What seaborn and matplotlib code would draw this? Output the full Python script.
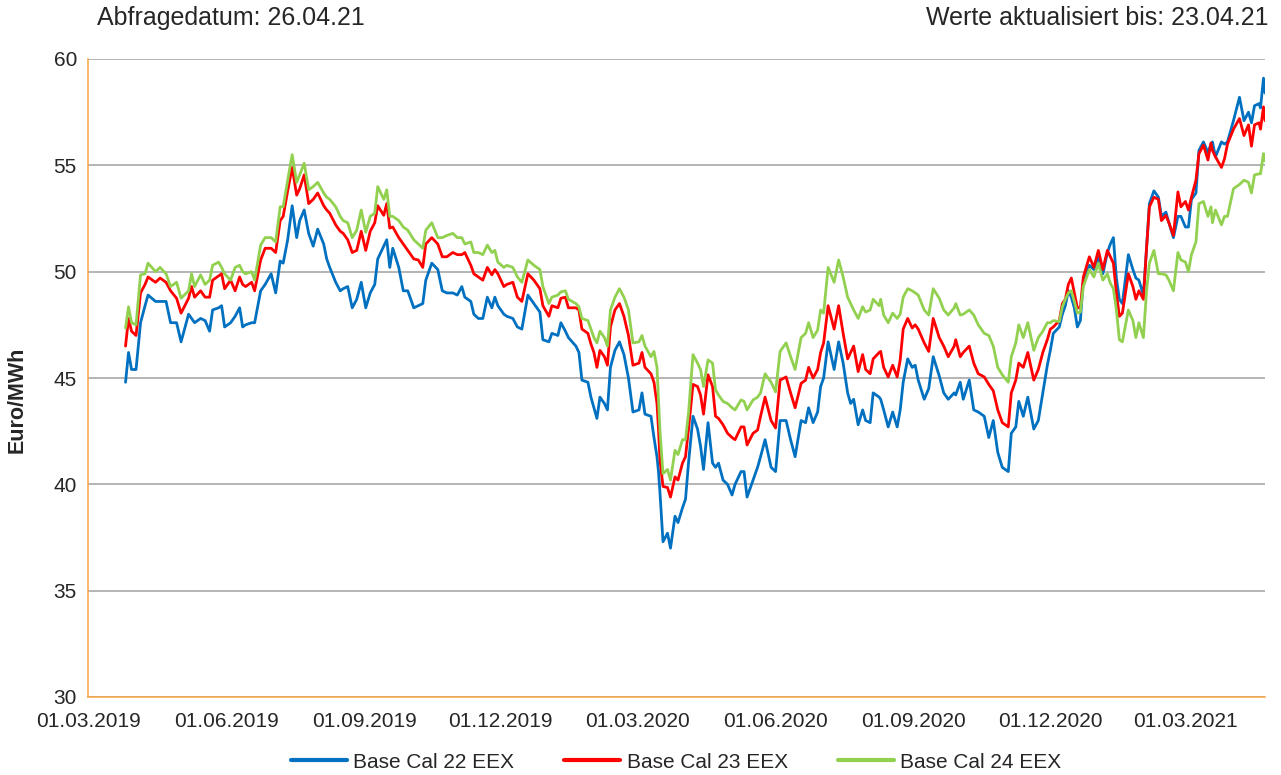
import pandas as pd
import seaborn as sns
import matplotlib.pyplot as plt
import matplotlib.dates as mdates

# ============================================================================
# DATA - days counted from 01.03.2019
# ============================================================================
start_date = "2019-03-01"

days = [
    25, 27, 29, 32, 35, 38, 40, 45, 48, 52,
    55, 59, 62, 67, 69, 71, 75, 78, 81, 83,
    87, 89, 91, 95, 98, 101, 103, 105, 109, 111,
    115, 118, 122, 125, 128, 130, 133, 136, 139, 141,
    144, 147, 150, 153, 157, 159, 161, 165, 168, 170,
    173, 176, 179, 182, 185, 188, 191, 193, 197, 199,
    201, 203, 207, 210, 213, 217, 220, 223, 225, 229,
    233, 236, 239, 243, 246, 249, 251, 255, 257, 260,
    263, 266, 269, 271, 273, 277, 279, 283, 286, 289,
    293, 297, 301, 303, 307, 309, 313, 315, 318, 320,
    325, 327, 329, 333, 335, 337, 339, 341, 344, 346,
    348, 351, 354, 357, 360, 363, 367, 369, 371, 375,
    377, 379, 380, 381, 383, 386, 388, 391, 393, 396,
    398, 400, 403, 406, 408, 410, 413, 416, 418, 420,
    423, 426, 429, 431, 435, 437, 439, 443, 446, 448,
    451, 455, 458, 461, 465, 468, 471, 475, 478, 480,
    483, 486, 488, 490, 493, 497, 500, 503, 506, 508,
    510, 513, 516, 518, 521, 523, 527, 528, 530, 533,
    536, 539, 541, 543, 546, 549, 551, 553, 557, 560,
    563, 567, 570, 573, 577, 578, 581, 583, 587, 590,
    593, 597, 600, 603, 606, 609, 613, 615, 618, 620,
    623, 626, 630, 633, 636, 639, 641, 643, 647, 649,
    651, 653, 655, 657, 659, 661, 663, 667, 670, 673,
    676, 679, 681, 683, 685, 687, 689, 693, 696, 698,
    700, 703, 705, 707, 710, 713, 715, 718, 720, 723,
    726, 728, 731, 733, 735, 738, 740, 743, 746, 748,
    749, 751, 755, 757, 759, 763, 767, 770, 773, 775,
    777, 780, 781, 783, 784,
]

cal22 = [
    44.8, 46.2, 45.4, 45.4, 47.6, 48.4, 48.9, 48.6, 48.6, 48.6,
    47.6, 47.6, 46.7, 48.0, 47.8, 47.6, 47.8, 47.7, 47.2, 48.2,
    48.3, 48.4, 47.4, 47.6, 47.9, 48.3, 47.4, 47.5, 47.6, 47.6,
    49.1, 49.4, 49.9, 49.0, 50.5, 50.4, 51.5, 53.1, 51.6, 52.4,
    52.9, 51.8, 51.2, 52.0, 51.3, 50.6, 50.2, 49.5, 49.1, 49.2,
    49.3, 48.3, 48.7, 49.5, 48.3, 49.0, 49.4, 50.6, 51.2, 51.5,
    50.2, 51.1, 50.2, 49.1, 49.1, 48.3, 48.4, 48.5, 49.6, 50.4,
    50.1, 49.1, 49.0, 49.0, 48.9, 49.3, 48.8, 48.6, 48.0, 47.8,
    47.8, 48.8, 48.3, 48.8, 48.4, 48.0, 47.9, 47.8, 47.4, 47.3,
    48.9, 48.5, 48.1, 46.8, 46.7, 47.1, 47.0, 47.6, 47.2, 46.9,
    46.5, 46.2, 44.9, 44.8, 44.1, 43.6, 43.1, 44.1, 43.8, 43.5,
    45.5, 46.3, 46.7, 46.1, 45.0, 43.4, 43.5, 44.3, 43.3, 43.2,
    42.2, 41.3, 40.6, 39.6, 37.3, 37.7, 37.0, 38.5, 38.2, 38.9,
    39.3, 41.0, 43.2, 42.6, 41.8, 40.7, 42.9, 41.0, 40.8, 41.0,
    40.2, 40.0, 39.5, 40.0, 40.6, 40.6, 39.4, 40.2, 40.8, 41.3,
    42.1, 40.8, 40.6, 43.0, 43.0, 42.1, 41.3, 43.0, 42.9, 43.6,
    42.9, 43.4, 44.6, 45.0, 46.7, 45.4, 46.7, 45.7, 44.3, 43.8,
    44.0, 42.8, 43.5, 43.0, 42.9, 44.3, 44.1, 44.0, 43.5, 42.7,
    43.4, 42.7, 43.5, 44.8, 45.9, 45.5, 45.6, 44.9, 44.0, 44.5,
    46.0, 45.1, 44.3, 44.0, 44.3, 44.2, 44.8, 44.0, 44.9, 43.5,
    43.4, 43.2, 42.2, 43.0, 41.5, 40.8, 40.6, 42.4, 42.7, 43.9,
    43.2, 44.1, 42.6, 43.0, 44.3, 45.6, 46.3, 47.1, 47.4, 48.0,
    48.4, 49.1, 48.8, 48.3, 47.4, 47.7, 49.6, 50.3, 50.1, 50.7,
    49.9, 50.9, 51.3, 51.6, 49.7, 48.7, 48.5, 50.8, 50.1, 49.7,
    49.6, 48.9, 51.0, 53.2, 53.8, 53.5, 52.6, 52.8, 52.3, 51.6,
    52.6, 52.6, 52.1, 52.1, 53.4, 53.7, 55.7, 56.1, 55.6, 56.0,
    56.1, 55.4, 56.1, 56.0, 56.1, 57.1, 58.2, 57.1, 57.5, 57.0,
    57.8, 57.9, 57.7, 59.1, 58.4,
]

cal23 = [
    46.5, 47.8, 47.2, 47.0, 49.0, 49.4, 49.75, 49.5, 49.7, 49.5,
    49.1, 48.75, 48.05, 48.75, 49.3, 48.8, 49.1, 48.8, 48.8, 49.6,
    49.8, 49.9, 49.2, 49.6, 49.1, 49.75, 49.4, 49.3, 49.5, 49.1,
    50.55, 51.1, 51.1, 50.9, 52.4, 52.6, 53.8, 54.9, 53.6, 53.9,
    54.55, 53.2, 53.4, 53.7, 53.1, 52.9, 52.75, 52.2, 51.9, 51.8,
    51.5, 50.9, 51.0, 51.9, 51.0, 51.9, 52.3, 53.1, 52.65, 53.2,
    52.05, 52.1, 51.6, 51.3, 51.0, 50.6, 50.55, 50.2, 51.3, 51.6,
    51.3, 50.7, 50.7, 50.9, 50.8, 50.8, 50.9, 50.3, 49.9, 49.75,
    49.6, 50.2, 49.85, 50.1, 49.9, 49.3, 49.4, 49.5, 48.8, 48.6,
    49.9, 49.6, 49.2, 48.4, 47.9, 48.4, 48.3, 48.75, 48.8, 48.3,
    48.3, 48.2, 47.3, 47.1, 46.6, 46.2, 45.5, 46.3, 46.0, 45.6,
    47.4, 48.2, 48.5, 47.9, 47.0, 45.6, 45.7, 46.2, 45.5, 45.2,
    44.8, 43.8, 42.6, 41.15, 39.9, 39.85, 39.4, 40.35, 40.2, 41.0,
    41.3, 42.6, 44.7, 44.6, 44.2, 43.3, 45.15, 44.6, 43.2, 43.1,
    42.8, 42.4, 42.2, 42.1, 42.7, 42.7, 41.85, 42.4, 42.55, 43.2,
    44.1, 43.0, 42.65, 44.9, 45.05, 44.3, 43.6, 44.75, 44.9, 45.5,
    45.0, 45.4, 46.2, 46.65, 48.4, 47.3, 48.4, 47.1, 45.9, 46.2,
    46.5, 45.3, 46.1, 45.4, 45.2, 45.9, 46.2, 46.25, 45.5, 45.05,
    45.6, 45.05, 45.85, 47.3, 47.8, 47.35, 47.5, 47.3, 46.65, 46.25,
    47.8, 46.9, 46.5, 46.0, 46.5, 46.8, 46.0, 46.2, 46.5, 45.7,
    45.2, 45.05, 44.7, 44.4, 43.5, 42.9, 42.7, 44.3, 44.9, 45.7,
    45.5, 46.2, 44.9, 45.4, 46.2, 46.8, 47.3, 47.4, 47.7, 48.5,
    48.7, 49.4, 49.7, 49.0, 48.3, 48.3, 49.75, 50.7, 50.2, 51.0,
    50.1, 51.0, 50.7, 50.4, 49.0, 47.9, 48.05, 49.9, 49.3, 48.7,
    49.1, 48.7, 51.0, 53.05, 53.5, 53.4, 52.4, 52.65, 52.3, 51.7,
    53.75, 53.05, 53.3, 52.9, 53.5, 54.3, 55.55, 55.95, 55.25, 56.05,
    55.7, 55.4, 54.9, 55.3, 56.0, 56.7, 57.2, 56.4, 56.9, 55.9,
    56.9, 57.0, 56.7, 57.75, 57.1,
]

cal24 = [
    47.35, 48.35, 47.6, 47.5, 49.85, 49.9, 50.4, 50.0, 50.2, 49.9,
    49.3, 49.5, 48.75, 49.1, 49.9, 49.3, 49.85, 49.4, 49.6, 50.3,
    50.45, 50.2, 49.9, 49.6, 50.2, 50.3, 50.0, 49.9, 50.0, 49.6,
    51.25, 51.6, 51.6, 51.4, 53.05, 53.05, 54.3, 55.5, 54.2, 54.55,
    55.1, 53.85, 54.0, 54.2, 53.7, 53.5, 53.4, 53.05, 52.6, 52.4,
    52.3, 51.6, 51.95, 52.9, 51.85, 52.6, 52.75, 54.0, 53.4, 53.85,
    52.6, 52.6, 52.4, 52.1, 51.95, 51.5, 51.3, 51.1, 51.95, 52.3,
    51.6, 51.6, 51.7, 51.8, 51.6, 51.6, 51.3, 51.4, 50.9, 50.9,
    50.8, 51.25, 50.9, 51.0, 50.45, 50.2, 50.3, 50.2, 49.75, 49.5,
    50.55, 50.3, 50.1, 49.3, 48.5, 48.8, 48.9, 49.05, 49.1, 48.7,
    48.5, 48.35, 47.8, 47.7, 47.3, 46.9, 46.65, 47.2, 46.9, 46.5,
    48.2, 48.8, 49.2, 48.8, 48.2, 46.65, 46.7, 47.0, 46.5, 46.0,
    46.25, 45.5, 43.97, 42.5, 40.5, 40.7, 40.2, 41.6, 41.4, 42.1,
    42.1, 43.35, 46.1, 45.7, 45.4, 44.6, 45.85, 45.7, 44.45, 44.2,
    43.9, 43.8, 43.6, 43.5, 43.97, 43.9, 43.5, 43.97, 44.1, 44.3,
    45.2, 44.8, 44.35, 46.25, 46.65, 46.0, 45.4, 46.9, 47.1, 47.6,
    46.9, 47.25, 48.2, 48.05, 50.2, 49.5, 50.55, 49.75, 48.8, 48.5,
    48.2, 47.8, 48.35, 48.1, 48.2, 48.7, 48.4, 48.7, 47.96, 47.6,
    48.05, 47.8, 48.0, 48.8, 49.2, 49.1, 49.0, 48.9, 48.2, 47.96,
    49.2, 48.75, 48.2, 47.96, 48.3, 48.5, 47.96, 48.0, 48.2, 47.96,
    47.5, 47.1, 47.0, 46.5, 45.5, 45.15, 44.8, 46.0, 46.65, 47.5,
    46.9, 47.6, 46.3, 46.9, 47.2, 47.6, 47.6, 47.7, 47.65, 48.35,
    48.7, 49.0, 49.1, 48.6, 48.05, 48.1, 49.3, 50.1, 49.75, 50.4,
    49.6, 49.9, 49.45, 49.2, 48.2, 46.8, 46.7, 48.2, 47.7, 46.9,
    47.6, 46.9, 49.0, 50.4, 51.0, 49.9, 49.9, 49.85, 49.6, 49.1,
    50.9, 50.55, 50.45, 50.0, 50.8, 51.4, 53.2, 53.3, 52.6, 53.05,
    52.3, 52.9, 52.2, 52.6, 52.6, 53.9, 54.1, 54.3, 54.2, 53.7,
    54.55, 54.6, 54.6, 55.55, 55.2,
]

series_names = ['Base Cal 22 EEX', 'Base Cal 23 EEX', 'Base Cal 24 EEX']
series_colors = ['#0070C0', '#FF0000', '#92D050']

tick_dates = ['2019-03-01', '2019-06-01', '2019-09-01', '2019-12-01',
              '2020-03-01', '2020-06-01', '2020-09-01', '2020-12-01',
              '2021-03-01']
y_ticks = [30, 35, 40, 45, 50, 55, 60]

query_text = 'Abfragedatum: 26.04.21'
update_text = 'Werte aktualisiert bis: 23.04.21'

# ============================================================================
# BUILD LONG DATAFRAME
# ============================================================================
dates = pd.Timestamp(start_date) + pd.to_timedelta(days, unit='D')
frames = []
for name, values in zip(series_names, [cal22, cal23, cal24]):
    frames.append(pd.DataFrame({'Datum': dates, 'Preis': values, 'Produkt': name}))
df = pd.concat(frames, ignore_index=True)

# ============================================================================
# PLOT
# ============================================================================
sns.set_style('white')
plt.rcParams['font.family'] = ['Liberation Sans', 'DejaVu Sans']

orange = '#F7A544'

fig = plt.figure(figsize=(12.81, 7.75), dpi=100)
ax = fig.add_axes([88 / 1281, 1 - 697 / 775, 1177 / 1281, 638 / 775])

sns.lineplot(data=df, x='Datum', y='Preis', hue='Produkt',
             hue_order=series_names, palette=series_colors,
             linewidth=2.0, ax=ax, legend=False)

ax.set_xlim(pd.Timestamp('2019-03-01'), pd.Timestamp('2021-04-23'))
ax.set_ylim(30, 60)
ax.set_yticks(y_ticks)
ax.set_xticks(pd.to_datetime(tick_dates))
ax.xaxis.set_major_formatter(mdates.DateFormatter('%d.%m.%Y'))

ax.yaxis.grid(True, color='#A0A0A0', linewidth=1.1)
ax.xaxis.grid(False)
ax.set_axisbelow(True)

for side in ['top', 'right']:
    ax.spines[side].set_visible(False)
for side in ['left', 'bottom']:
    ax.spines[side].set_color(orange)
    ax.spines[side].set_linewidth(1.1)

ax.tick_params(axis='x', direction='out', length=6, width=1.1, color=orange,
               labelsize=15, pad=5)
ax.tick_params(axis='y', direction='out', length=4, width=1.1, color=orange,
               labelsize=15, pad=4)

ax.set_xlabel('')
ax.set_ylabel('Euro/MWh', fontsize=15.5, fontweight='bold')
ax.yaxis.set_label_coords(-0.051, 0.466)

# header texts
fig.text(97 / 1281, 1 - 18 / 775, query_text, fontsize=18, ha='left', va='center')
fig.text(1268 / 1281, 1 - 18 / 775, update_text, fontsize=18, ha='right', va='center')

# legend
handles = [plt.Line2D([], [], color=c, linewidth=3) for c in series_colors]
fig.legend(handles, series_names, loc='center', ncol=3, frameon=False,
           bbox_to_anchor=(676 / 1281, 1 - 762 / 775), fontsize=15,
           handlelength=2.7, handletextpad=0.3, columnspacing=2.4)

plt.savefig('out.png', dpi=100)
